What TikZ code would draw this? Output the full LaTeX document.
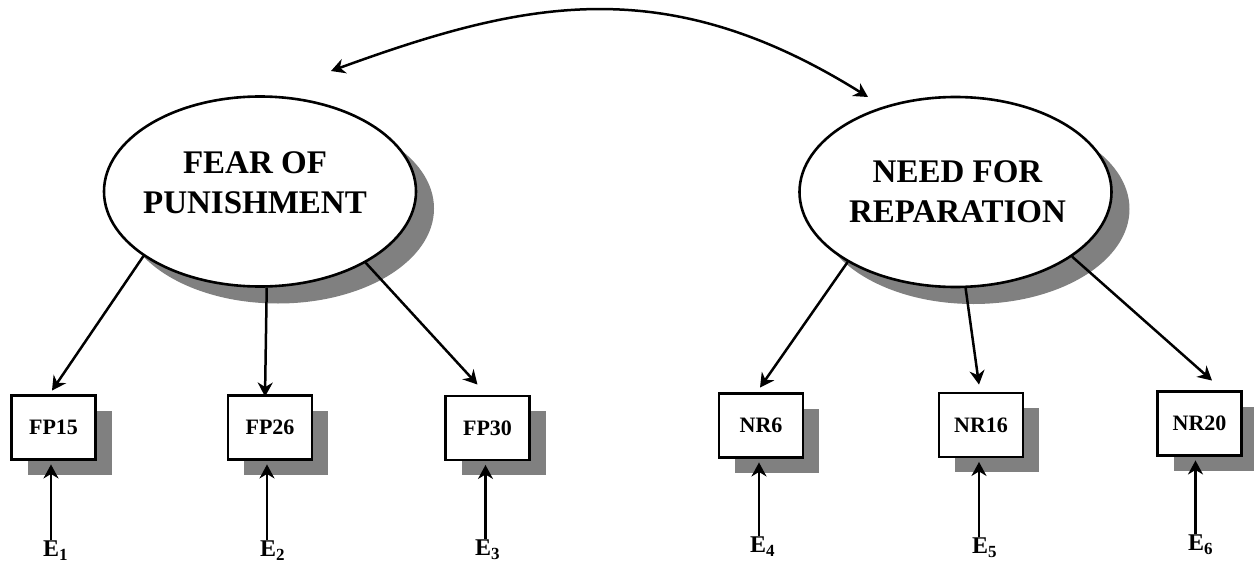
\documentclass[tikz,border=0pt]{standalone}
\usepackage{fontspec}
\setmainfont{Liberation Serif}
\usetikzlibrary{arrows.meta,shadows,shapes.geometric}
\begin{document}
\begin{tikzpicture}[x=1pt,y=-1pt,
  latent/.style={ellipse, draw, line width=2.6pt, fill=white,
    minimum width=312pt, minimum height=190pt, inner sep=0pt,
    drop shadow={shadow xshift=18pt, shadow yshift=-17pt, fill=black!50, opacity=1}},
  lvtext/.style={align=center, inner sep=0pt, font=\fontsize{33}{40}\selectfont\bfseries},
  obs/.style={draw, line width=2.9pt, fill=white, minimum width=84pt, minimum height=64pt,
    inner sep=0pt, font=\fontsize{22}{26}\selectfont\bfseries,
    drop shadow={shadow xshift=16pt, shadow yshift=-15pt, fill=black!50, opacity=1}},
  errlabel/.style={inner sep=0pt, anchor=base west, font=\fontsize{24}{28}\selectfont\bfseries},
  tip/.tip={Stealth[length=14pt,width=15pt,inset=4.5pt]},
  arr/.style={line width=2.5pt, -tip},
  dbl/.style={line width=2.5pt, tip-tip}
]
\useasboundingbox[fill=white] (0,0) rectangle (1254,562);

% latent variables
\node[latent] (fp) at (260,191.5) {};
\node[latent] (nr) at (955.5,192) {};
\node[lvtext] (fpt) at (255,182.5) {FEAR OF\\PUNISHMENT};
\node[lvtext] (nrt) at (957.5,191.5) {NEED FOR\\REPARATION};

% observed variables
\node[obs] (fp15) at (53.5,427.5) {FP15};
\node[obs] (fp26) at (270,427.5) {FP26};
\node[obs] (fp30) at (487.5,428) {FP30};
\node[obs] (nr6) at (761,425.5) {NR6};
\node[obs] (nr16) at (981,425) {NR16};
\node[obs] (nr20) at (1199.5,423.5) {NR20};

% error labels
\node[errlabel] (e1) at (43,556) {E\raisebox{-4.5pt}{\fontsize{17}{17}\selectfont 1}};
\node[errlabel] (e2) at (260,556) {E\raisebox{-4.5pt}{\fontsize{17}{17}\selectfont 2}};
\node[errlabel] (e3) at (475,555) {E\raisebox{-4.5pt}{\fontsize{17}{17}\selectfont 3}};
\node[errlabel] (e4) at (750,552) {E\raisebox{-4.5pt}{\fontsize{17}{17}\selectfont 4}};
\node[errlabel] (e5) at (972,553) {E\raisebox{-4.5pt}{\fontsize{17}{17}\selectfont 5}};
\node[errlabel] (e6) at (1188,550) {E\raisebox{-4.5pt}{\fontsize{17}{17}\selectfont 6}};

% loadings
\draw[arr] (fp.209) -- ([xshift=-1.5pt,yshift=3.5pt]fp15.north);
\draw[arr] (fp.274) -- ([xshift=-5pt,yshift=-2.5pt]fp26.north);
\draw[arr] (fp.326) -- ([xshift=-10pt,yshift=10pt]fp30.north);
\draw[arr] (nr.213) -- ([xshift=-1pt,yshift=4.5pt]nr6.north);
\draw[arr] (nr.276) -- ([xshift=-2pt,yshift=7pt]nr16.north);
\draw[arr] (nr.331) -- ([xshift=12.5pt,yshift=9.5pt]nr20.north);

% error arrows
\draw[arr] ([xshift=-2.5pt]fp15.south |- e1.north) -- ([xshift=-2.5pt,yshift=-3.5pt]fp15.south);
\draw[arr] ([xshift=-3pt]fp26.south |- e2.north) -- ([xshift=-3pt,yshift=-3.5pt]fp26.south);
\draw[arr] ([xshift=-2pt]fp30.south |- e3.north) -- ([xshift=-2pt,yshift=-3.5pt]fp30.south);
\draw[arr] ([xshift=-2pt]nr6.south |- e4.north) -- ([xshift=-2pt,yshift=-3.5pt]nr6.south);
\draw[arr] ([xshift=-2pt]nr16.south |- e5.north) -- ([xshift=-2pt,yshift=-3.5pt]nr16.south);
\draw[arr] ([xshift=-4pt]nr20.south |- e6.north) -- ([xshift=-4pt,yshift=-3.5pt]nr20.south);

% correlation
\coordinate (cl) at (331,71);
\coordinate (cr) at (868,97);
\draw[dbl] (cl) .. controls (523,1.2) and (664,-30.5) .. (cr);
\end{tikzpicture}
\end{document}
